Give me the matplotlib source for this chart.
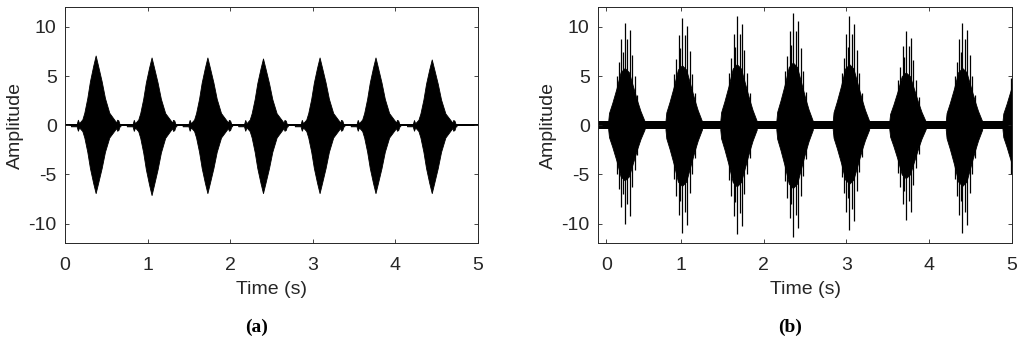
import matplotlib
matplotlib.use("Agg")
import matplotlib.pyplot as plt
import numpy as np

plt.rcParams['font.family'] = ['Liberation Sans', 'DejaVu Sans']
plt.rcParams['axes.unicode_minus'] = False

# ---- panel (a): smooth bursts ----
a_centers = [0.371, 1.048, 1.724, 2.397, 3.082, 3.759, 4.440]
a_top = [7.1, 6.9, 6.9, 6.8, 6.9, 6.9, 6.7]
a_bot = [-6.9, -7.1, -6.9, -6.9, -6.9, -6.9, -6.9]
# envelope of one burst (offset from peak in s, fraction of peak)
a_prof_t = [-0.30, -0.23, -0.215, -0.20, -0.19, -0.161, -0.137, -0.101, -0.069, -0.03, 0.0,
            0.03, 0.073, 0.113, 0.165, 0.226, 0.25, 0.26, 0.275, 0.29, 0.30]
a_prof_v = [0.015, 0.015, 0.08, 0.03, 0.045, 0.085, 0.18, 0.39, 0.63, 0.85, 1.0,
            0.85, 0.63, 0.39, 0.18, 0.08, 0.04, 0.08, 0.07, 0.015, 0.015]
a_floor = 0.1

# ---- panel (b): spiky bursts ----
b_centers = [0.323, 1.015, 1.677, 2.354, 3.035, 3.718, 4.400, 5.085]
b_top = [10.4, 10.9, 11.1, 11.4, 11.1, 9.6, 10.4, 10.0]
b_bot = [-10.0, -11.0, -11.1, -11.4, -10.6, -9.6, -11.0, -10.0]
spike_t = [-0.141, -0.093, -0.068, -0.04, -0.02, 0.0, 0.032, 0.06, 0.092, 0.121, 0.153, 0.181]
spike_up = [0.15, 0.48, 0.62, 0.84, 0.72, 1.0, 0.84, 0.93, 0.69, 0.48, 0.30, 0.13]
spike_dn = [0.15, 0.50, 0.65, 0.83, 0.70, 1.0, 0.80, 0.92, 0.63, 0.45, 0.30, 0.12]
body_t = [-0.20, -0.19, -0.17, -0.15, -0.10, -0.05, 0.0, 0.05, 0.10, 0.15, 0.19, 0.22, 0.24]
body_v = [0.04, 0.12, 0.17, 0.22, 0.36, 0.52, 0.56, 0.52, 0.38, 0.24, 0.14, 0.08, 0.04]
b_floor = 0.4

xticks = [0, 1, 2, 3, 4, 5]
yticks = [-10, -5, 0, 5, 10]
fs = 14

fig = plt.figure(figsize=(10.24, 3.41), dpi=100)
bottom = 1 - 243.3 / 341
height = 236 / 341
axA = fig.add_axes([65 / 1024, bottom, 413 / 1024, height])
axB = fig.add_axes([598 / 1024, bottom, 414 / 1024, height])

# (a)
axA.fill_between([0, 5], -a_floor, a_floor, color='black', lw=0)
pt = np.array(a_prof_t)
pv = np.array(a_prof_v)
for c, hi, lo in zip(a_centers, a_top, a_bot):
    axA.fill_between(c + pt, lo * pv, hi * pv, color='black', lw=0.6)

# (b)
axB.fill_between([0, 5], -b_floor, b_floor, color='black', lw=0)
st = np.array(spike_t)
bt = np.array(body_t)
bv = np.array(body_v)
for c, hi, lo in zip(b_centers, b_top, b_bot):
    axB.fill_between(c + bt, lo * bv, hi * bv, color='black', lw=0.6)
    axB.vlines(c + st, 0, hi * np.array(spike_up), color='black', lw=0.9)
    axB.vlines(c + st, lo * np.array(spike_dn), 0, color='black', lw=0.9)

for ax in (axA, axB):
    ax.set_ylim(-12, 12)
    ax.set_yticks(yticks)
    ax.set_ylabel('Amplitude', fontsize=fs, color='#262626', labelpad=3)
    ax.set_xlabel('Time (s)', fontsize=fs, color='#262626', labelpad=5)
    ax.tick_params(direction='in', length=3, width=0.6, top=True, right=True,
                   labelsize=fs, colors='#262626')
    ax.tick_params(axis='x', pad=10)
    ax.tick_params(axis='y', pad=6)
    for s in ax.spines.values():
        s.set_linewidth(0.7)
        s.set_color('#262626')

axA.set_xlim(0, 5)
axA.set_xticks(xticks)
axB.set_xlim(0, 5)
# the "0" tick of panel (b) sits slightly right of the axis origin in the source
axB.set_xticks([0.1, 1, 2, 3, 4, 5])
axB.set_xticklabels([str(v) for v in xticks])

fig.text(257 / 1024, 1 - 327 / 341, '(a)', ha='center', va='center', fontsize=14,
         fontweight='bold', family=['Liberation Serif', 'DejaVu Serif'])
fig.text(790 / 1024, 1 - 327 / 341, '(b)', ha='center', va='center', fontsize=14,
         fontweight='bold', family=['Liberation Serif', 'DejaVu Serif'])

fig.savefig('out.png', dpi=100)
